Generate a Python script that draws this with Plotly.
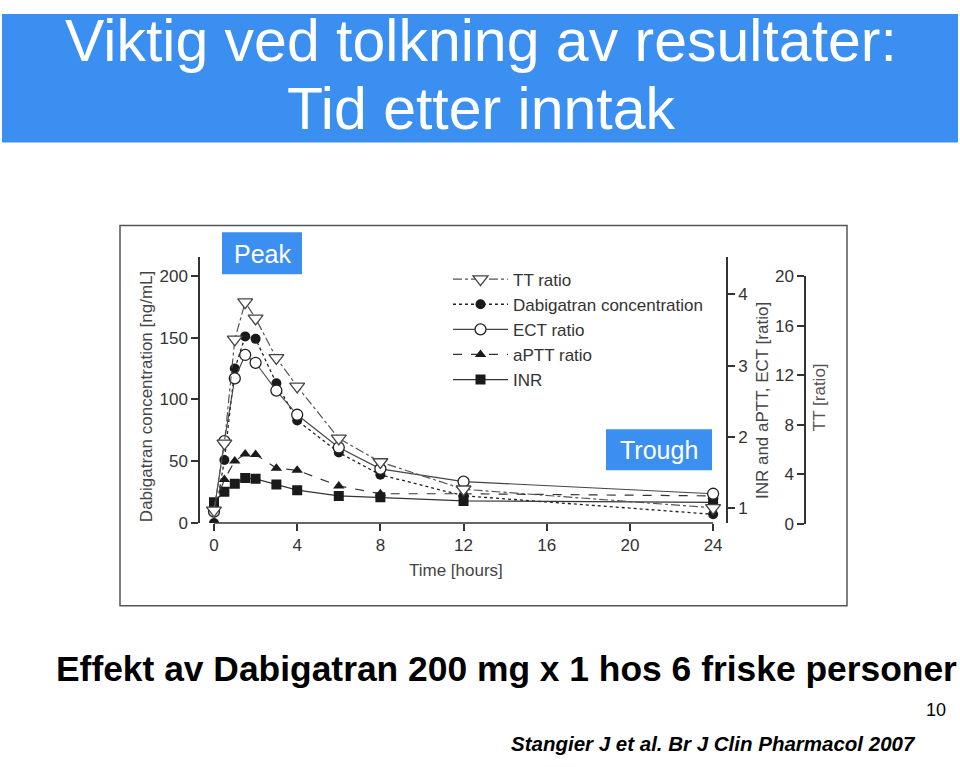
import plotly.graph_objects as go

W, H = 960, 767
def px(x): return x / W
def py(y): return 1 - y / H

# ---- data ----
time_h = [0, 0.5, 1, 1.5, 2, 3, 4, 6, 8, 12, 24]
dabigatran_conc = [0, 51, 125, 151, 149, 113, 83, 57, 39, 22, 7]          # ng/mL (left axis)
tt_ratio = [1.1, 6.5, 14.9, 17.9, 16.6, 13.4, 11.1, 6.9, 5.0, 2.8, 1.3]  # TT ratio (right axis)
ect_ratio = [0.95, 1.94, 2.82, 3.15, 3.04, 2.65, 2.31, 1.85, 1.55, 1.37, 1.20]
aptt_ratio = [1.02, 1.40, 1.66, 1.76, 1.75, 1.56, 1.53, 1.31, 1.20, 1.20, 1.17]
inr = [1.08, 1.23, 1.34, 1.42, 1.41, 1.33, 1.25, 1.17, 1.15, 1.10, 1.08]

x_ticks = [0, 4, 8, 12, 16, 20, 24]
conc_ticks = [0, 50, 100, 150, 200]
ratio_ticks = [1, 2, 3, 4]
tt_ticks = [0, 4, 8, 12, 16, 20]

BLUE = "#3b8ff0"
INK = "#333333"
TITLE_INK = "#444444"
FONT = "Liberation Sans, Arial, sans-serif"

fig = go.Figure()

fig.add_trace(go.Scatter(
    x=time_h, y=dabigatran_conc, name="Dabigatran concentration", legendrank=2,
    mode="lines+markers", xaxis="x", yaxis="y",
    line=dict(color="#222", width=1.3, dash="dot"),
    marker=dict(symbol="circle", size=10, color="#1a1a1a")))
fig.add_trace(go.Scatter(
    x=time_h, y=inr, name="INR", legendrank=5,
    mode="lines+markers", xaxis="x", yaxis="y2",
    line=dict(color="#333", width=1.2),
    marker=dict(symbol="square", size=10, color="#1a1a1a")))
fig.add_trace(go.Scatter(
    x=time_h, y=aptt_ratio, name="aPTT ratio", legendrank=4,
    mode="lines+markers", xaxis="x", yaxis="y2",
    line=dict(color="#333", width=1.2, dash="dash"),
    marker=dict(symbol="triangle-up", size=10, color="#1a1a1a")))
fig.add_trace(go.Scatter(
    x=time_h, y=ect_ratio, name="ECT ratio", legendrank=3,
    mode="lines+markers", xaxis="x", yaxis="y2",
    line=dict(color="#444", width=1.1),
    marker=dict(symbol="circle", size=11, color="white", line=dict(color="#222", width=1.3))))
fig.add_trace(go.Scatter(
    x=time_h, y=tt_ratio, name="TT ratio", legendrank=1,
    mode="lines+markers", xaxis="x", yaxis="y3",
    line=dict(color="#555", width=1.2, dash="dashdot"),
    marker=dict(symbol="triangle-down", size=13, color="white", line=dict(color="#444", width=1.3))))

axis_common = dict(showgrid=False, zeroline=False, linecolor=INK, linewidth=1.5,
                   ticks="outside", ticklen=7, tickwidth=1.5, tickcolor=INK,
                   tickfont=dict(family=FONT, size=17, color=INK))

fig.update_layout(
    width=W, height=H, margin=dict(l=0, r=0, t=0, b=0),
    paper_bgcolor="white", plot_bgcolor="rgba(0,0,0,0)",
    font=dict(family=FONT, color=INK),
    xaxis=dict(domain=[px(200), px(726)], range=[-0.673, 24.62], tickvals=x_ticks,
               anchor="y", showline=False, **axis_common),
    yaxis=dict(domain=[py(527), py(254)], range=[0, 215.5], tickvals=conc_ticks,
               anchor="x", side="left", showline=True, **axis_common),
    yaxis2=dict(overlaying="y", side="right", anchor="x", range=[0.79, 4.53],
                tickvals=ratio_ticks, showline=True, **axis_common),
    yaxis3=dict(domain=[py(528), py(274)], anchor="free", position=px(805), side="left",
                range=[0, 20], tickvals=tt_ticks, showline=True, **axis_common),
    legend=dict(x=px(448), y=py(259), xanchor="left", yanchor="top",
                bgcolor="rgba(0,0,0,0)", itemwidth=55,
                font=dict(family=FONT, size=17, color=INK)),
    showlegend=True,
)

shapes = [
    dict(type="rect", xref="paper", yref="paper", x0=px(2), x1=px(958), y0=py(137), y1=py(5),
         fillcolor=BLUE, line=dict(width=0), layer="below"),
    dict(type="rect", xref="paper", yref="paper", x0=px(120), x1=px(847), y0=py(612), y1=py(222),
         fillcolor="white", line=dict(color="#555", width=1.5), layer="below"),
    dict(type="rect", xref="paper", yref="paper", x0=px(222), x1=px(302), y0=py(272), y1=py(229),
         fillcolor=BLUE, line=dict(width=0), layer="below"),
    dict(type="rect", xref="paper", yref="paper", x0=px(606), x1=px(712), y0=py(473), y1=py(431),
         fillcolor=BLUE, line=dict(width=0), layer="below"),
    # x-axis baseline drawn only over the tick span (0..24), as in the reference
    dict(type="line", xref="x", yref="paper", x0=x_ticks[0], x1=x_ticks[-1],
         y0=py(527), y1=py(527), line=dict(color=INK, width=1.5), layer="above"),
]
fig.update_layout(shapes=shapes)

def ann(text, x, y, size, color=INK, xanchor="center", yanchor="middle", angle=0, **kw):
    fig.add_annotation(text=text, x=px(x), y=py(y), xref="paper", yref="paper",
                       showarrow=False, xanchor=xanchor, yanchor=yanchor, textangle=angle,
                       font=dict(family=FONT, size=size, color=color, **kw))

ann("Viktig ved tolkning av resultater:", 481, 33, 59, color="white")
ann("Tid etter inntak", 481, 103, 59, color="white")
ann("Peak", 262, 251, 25, color="white")
ann("Trough", 659, 452, 25, color="white")
ann("Dabigatran concentration [ng/mL]", 146, 398, 17, color=TITLE_INK, angle=-90)
ann("INR and aPTT, ECT [ratio]", 762, 402, 17, color=TITLE_INK, angle=-90)
ann("TT [ratio]", 819, 398, 17, color="#555555", angle=-90)
ann("Time [hours]", 456, 576, 17, color=TITLE_INK)
ann("<b>Effekt av Dabigatran 200 mg x 1 hos 6 friske personer</b>", 507, 677, 35.4, color="black")
ann("10", 948, 719, 18, color="black", xanchor="right")
ann("<b><i>Stangier J et al. Br J Clin Pharmacol 2007</i></b>", 713, 753, 20.5, color="black")

fig.write_html("out.html")
